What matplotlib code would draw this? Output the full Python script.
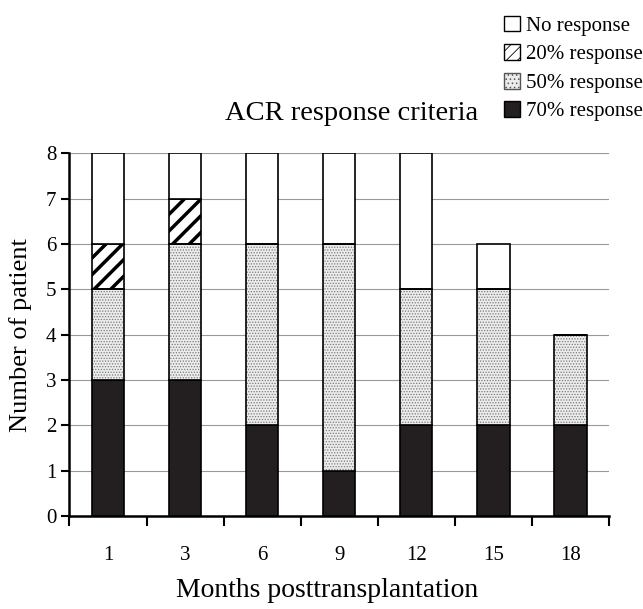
import matplotlib
matplotlib.use("Agg")
import matplotlib.pyplot as plt
import matplotlib.patches as mpatches
import numpy as np

# ==========================================
# DATOS
# ==========================================
meses = ["1", "3", "6", "9", "12", "15", "18"]
resp_70 = [3, 3, 2, 1, 2, 2, 2]
resp_50 = [2, 3, 4, 5, 3, 3, 2]
resp_20 = [1, 1, 0, 0, 0, 0, 0]
sin_resp = [2, 1, 2, 2, 3, 1, 0]

plt.rcParams["font.family"] = ["Liberation Serif", "DejaVu Serif"]

fig = plt.figure(figsize=(6.43, 6.09), dpi=100)
ax = fig.add_axes([0.108, 0.153, 0.839, 0.595])

x = np.arange(len(meses))
ancho = 0.42

b70 = np.array(resp_70)
b50 = b70 + np.array(resp_50)
b20 = b50 + np.array(resp_20)

# 70% - negro
ax.bar(x, resp_70, ancho, color="#231f20", edgecolor="black", linewidth=1.2, zorder=3)

# 50% - punteado gris
plt.rcParams["hatch.linewidth"] = 0.6
ax.bar(x, resp_50, ancho, bottom=b70, facecolor="#ececec", edgecolor="#7a7a7a",
       hatch="......", linewidth=0, zorder=3)
ax.bar(x, resp_50, ancho, bottom=b70, fill=False, edgecolor="black", linewidth=1.2, zorder=4)

# 20% - rayado
plt.rcParams["hatch.linewidth"] = 2.5
ax.bar(x, resp_20, ancho, bottom=b50, facecolor="white", edgecolor="black",
       hatch="//", linewidth=1.2, zorder=3)

# sin respuesta
ax.bar(x, sin_resp, ancho, bottom=b20, facecolor="white", edgecolor="black",
       linewidth=1.2, zorder=3)

# ==========================================
# EJES
# ==========================================
ax.set_xlim(-0.5, len(meses) - 0.5)
ax.set_ylim(0, 8)
ax.set_yticks(range(0, 9))
ax.yaxis.grid(True, color="#999999", linewidth=0.8, zorder=0)
ax.set_xticks(np.arange(len(meses) + 1) - 0.5)
ax.set_xticklabels([])
ax.set_xticks(x, minor=True)
ax.set_xticklabels(meses, minor=True)
ax.tick_params(axis="x", which="minor", length=0, pad=22, labelsize=15)
ax.tick_params(axis="x", which="major", direction="out", length=7, width=1.5)
ax.tick_params(axis="y", direction="out", length=6, width=1.5, labelsize=15)

for lado in ["top", "right"]:
    ax.spines[lado].set_visible(False)
ax.spines["left"].set_linewidth(1.8)
ax.spines["bottom"].set_linewidth(1.8)

ax.set_xlabel("Months posttransplantation", fontsize=20)
ax.xaxis.set_label_coords(0.478, -0.172)
ax.set_ylabel("Number of patient", fontsize=19, labelpad=10)

fig.text(0.546, 0.814, "ACR response criteria", fontsize=20.5, ha="center", va="center")

# ==========================================
# LEYENDA
# ==========================================
plt.rcParams["hatch.linewidth"] = 1.5
h_no = mpatches.Patch(facecolor="white", edgecolor="black", label="No response")
h_20 = mpatches.Patch(facecolor="white", edgecolor="black", hatch="///", label="20% response")
plt.rcParams["hatch.linewidth"] = 0.6
h_50 = mpatches.Patch(facecolor="#ececec", edgecolor="#555555", hatch="....", label="50% response")
h_70 = mpatches.Patch(facecolor="#231f20", edgecolor="black", label="70% response")

fig.legend(handles=[h_no, h_20, h_50, h_70], loc="upper right",
           bbox_to_anchor=(1.02, 0.995), frameon=False, fontsize=15,
           handlelength=0.8, handleheight=0.8, handletextpad=0.3,
           labelspacing=0.4, borderaxespad=0.2)

plt.savefig("out.png", dpi=100)
plt.close()
